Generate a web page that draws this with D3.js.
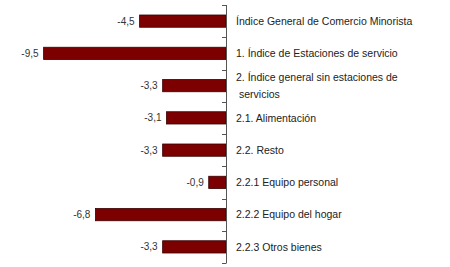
<!DOCTYPE html>
<html>
<head>
<meta charset="utf-8">
<script src="https://cdn.jsdelivr.net/npm/d3@7"></script>
<style>
  body { margin: 0; background: #fff; }
  svg { display: block; font-family: "Liberation Sans", Arial, sans-serif; }
</style>
</head>
<body>
<div id="chart"></div>
<script>
// categorias y valores
var categories = [
  "Índice General de Comercio Minorista",
  "1. Índice de Estaciones de servicio",
  "2. Índice general sin estaciones de servicios",
  "2.1. Alimentación",
  "2.2. Resto",
  "2.2.1 Equipo personal",
  "2.2.2 Equipo del hogar",
  "2.2.3 Otros bienes"
];
var values = [-4.5, -9.5, -3.3, -3.1, -3.3, -0.9, -6.8, -3.3];
var xDomain = [-10, 0];

var width = 450, height = 267;
var axisX = 226;

var svg = d3.select("#chart").append("svg")
  .attr("width", width)
  .attr("height", height);

var x = d3.scaleLinear().domain(xDomain).range([34, axisX]);
var y = d3.scaleBand().domain(d3.range(categories.length)).range([5, 263]).paddingInner(0.62).paddingOuter(0.31);

var fmt = function(v) { return d3.format(".1f")(v).replace("−", "-").replace(".", ","); };

// barras
svg.selectAll(".bar")
  .data(values)
  .enter()
  .append("rect")
  .attr("class", "bar")
  .attr("x", function(d) { return x(d); })
  .attr("y", function(d, i) { return y(i); })
  .attr("width", function(d) { return x(0) - x(d); })
  .attr("height", y.bandwidth())
  .attr("fill", "#7d0000")
  .attr("stroke", "#3a0000")
  .attr("stroke-width", 0.8);

// etiquetas de valor
svg.selectAll(".val")
  .data(values)
  .enter()
  .append("text")
  .attr("class", "val")
  .attr("x", function(d) { return x(d) - 5; })
  .attr("y", function(d, i) { return y(i) + y.bandwidth() / 2; })
  .attr("dy", "0.35em")
  .attr("text-anchor", "end")
  .style("font-size", "10px")
  .attr("fill", "#333")
  .text(fmt);

// eje con marcas en los limites de cada categoria
var bounds = d3.range(categories.length + 1).map(function(i) {
  return y.range()[0] + i * y.step() - (i === 0 ? 0 : 0);
});
var step = (y.range()[1] - y.range()[0]) / categories.length;
var g = svg.append("g");
g.append("line")
  .attr("x1", axisX + 0.5).attr("x2", axisX + 0.5)
  .attr("y1", y.range()[0]).attr("y2", y.range()[1])
  .attr("stroke", "#555");
g.selectAll(".tick")
  .data(d3.range(categories.length + 1))
  .enter()
  .append("line")
  .attr("x1", axisX - 4).attr("x2", axisX + 0.5)
  .attr("y1", function(i) { return Math.round(y.range()[0] + i * step) + 0.5; })
  .attr("y2", function(i) { return Math.round(y.range()[0] + i * step) + 0.5; })
  .attr("stroke", "#555");

// etiquetas de categoria
var maxW = 200;
var labels = svg.selectAll(".cat")
  .data(categories)
  .enter()
  .append("text")
  .attr("class", "cat")
  .attr("x", 236)
  .style("font-size", "10.5px")
  .attr("fill", "#222");

labels.each(function(d, i) {
  var t = d3.select(this);
  var words = d.split(" "), lines = [], line = [];
  var probe = t.append("tspan");
  words.forEach(function(w) {
    line.push(w);
    probe.text(line.join(" "));
    if (probe.node().getComputedTextLength() > maxW && line.length > 1) {
      line.pop();
      lines.push(line.join(" "));
      line = [w];
    }
  });
  lines.push(line.join(" "));
  probe.remove();
  var cy = y(i) + y.bandwidth() / 2;
  var lh = 17;
  var top = cy - (lines.length - 1) * lh / 2;
  lines.forEach(function(l, k) {
    t.append("tspan")
      .attr("x", 236 + (k > 0 ? 3 : 0))
      .attr("y", top + k * lh)
      .attr("dy", "0.35em")
      .text(l);
  });
});
</script>
</body>
</html>
